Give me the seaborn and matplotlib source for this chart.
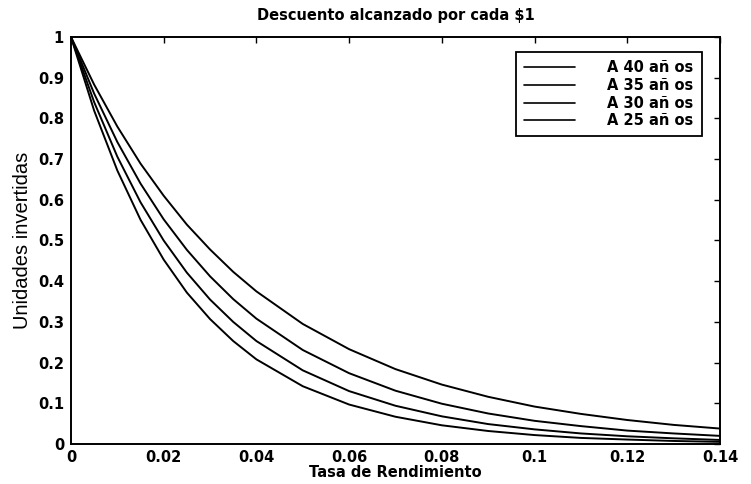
import numpy as np
import pandas as pd
import seaborn as sns
import matplotlib
matplotlib.use("Agg")
import matplotlib.pyplot as plt
from matplotlib.ticker import FormatStrFormatter

sns.set_theme(style="white")
plt.rcParams['font.family'] = ['DejaVu Sans']
plt.rcParams['text.color'] = 'black'
plt.rcParams['axes.labelcolor'] = 'black'

# tasa de rendimiento (eje x)
tasa = [0.0, 0.005, 0.01, 0.015, 0.02, 0.025, 0.03, 0.035, 0.04,
        0.05, 0.06, 0.07, 0.08, 0.09, 0.10, 0.11, 0.12, 0.13, 0.14]

# valores
a40 = [1.0, 0.819, 0.672, 0.551, 0.453, 0.372, 0.307, 0.253, 0.208,
       0.142, 0.097, 0.067, 0.046, 0.032, 0.022, 0.015, 0.011, 0.0075, 0.0053]
a35 = [1.0, 0.840, 0.706, 0.594, 0.500, 0.421, 0.355, 0.300, 0.253,
       0.181, 0.130, 0.094, 0.068, 0.049, 0.036, 0.026, 0.019, 0.014, 0.010]
a30 = [1.0, 0.861, 0.742, 0.640, 0.552, 0.477, 0.412, 0.356, 0.308,
       0.231, 0.174, 0.131, 0.099, 0.075, 0.057, 0.044, 0.033, 0.026, 0.020]
a25 = [1.0, 0.883, 0.780, 0.689, 0.610, 0.539, 0.478, 0.423, 0.375,
       0.295, 0.233, 0.184, 0.146, 0.116, 0.092, 0.074, 0.059, 0.047, 0.038]

etiquetas = ["A 40 añ os", "A 35 añ os", "A 30 añ os", "A 25 añ os"]

df = pd.concat([
    pd.DataFrame({"tasa": tasa, "valor": v, "serie": lab})
    for v, lab in zip([a40, a35, a30, a25], etiquetas)
])

fig = plt.figure(figsize=(7.51, 4.84), dpi=100)
ax = fig.add_axes([0.0945, 0.0826, 0.8642, 0.841])

sns.lineplot(data=df, x="tasa", y="valor", hue="serie", hue_order=etiquetas,
             palette=["black"] * 4, linewidth=1.4, ax=ax, legend=True)

ax.set_xlim(0, 0.14)
ax.set_ylim(0, 1)
ax.set_xticks(np.arange(0, 0.1401, 0.02))
ax.set_yticks(np.arange(0, 1.001, 0.1))
ax.xaxis.set_major_formatter(FormatStrFormatter('%g'))
ax.yaxis.set_major_formatter(FormatStrFormatter('%g'))
ax.tick_params(direction='in', length=4, width=1, top=True, right=True,
               labelsize=10.5, colors='black', pad=5)
ax.tick_params(axis='x', pad=4)
for lbl in ax.get_xticklabels() + ax.get_yticklabels():
    lbl.set_fontweight('bold')
for s in ax.spines.values():
    s.set_color('black')
    s.set_linewidth(1.4)
ax.grid(False)

ax.set_title("Descuento alcanzado por cada \\$1", fontsize=10.5, fontweight='bold',
             color='black', pad=12)
ax.set_xlabel("Tasa de Rendimiento", fontsize=10.5, fontweight='bold', labelpad=0)
ax.set_ylabel("Unidades invertidas", fontsize=14.5, labelpad=4,
              family=['Liberation Sans Narrow', 'Liberation Sans', 'DejaVu Sans'])

leg = ax.legend(loc='upper right', bbox_to_anchor=(0.983, 0.98), fontsize=10.5,
                handlelength=3.5, handletextpad=2.2, borderpad=0.55,
                labelspacing=0.18, fancybox=False, framealpha=1, edgecolor='black')
leg.get_frame().set_linewidth(1.3)
for t in leg.get_texts():
    t.set_fontweight('bold')
    t.set_color('black')
for h in leg.get_lines():
    h.set_linewidth(1.2)

fig.savefig("out.png", dpi=100)
